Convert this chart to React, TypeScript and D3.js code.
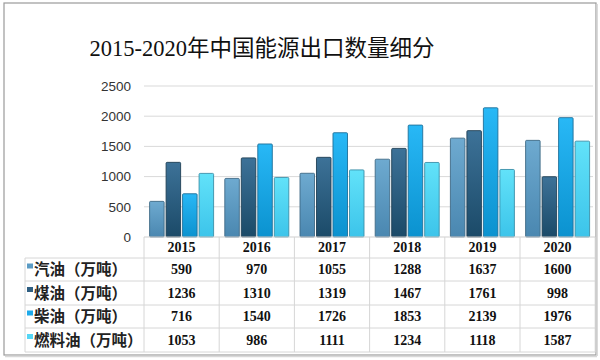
import React from "react";
import * as d3 from "d3";

const years = ["2015", "2016", "2017", "2018", "2019", "2020"];
const seriesNames = ["汽油（万吨）", "煤油（万吨）", "柴油（万吨）", "燃料油（万吨）"];
const gasoline = [590, 970, 1055, 1288, 1637, 1600];
const kerosene = [1236, 1310, 1319, 1467, 1761, 998];
const diesel = [716, 1540, 1726, 1853, 2139, 1976];
const fuelOil = [1053, 986, 1111, 1234, 1118, 1587];
const yTicks = [0, 500, 1000, 1500, 2000, 2500];
const title = "2015-2020年中国能源出口数量细分";

const seriesValues = [gasoline, kerosene, diesel, fuelOil];
const gradients = [
  ["#6eaad0", "#4a87b0"],
  ["#3d7298", "#1b4a68"],
  ["#28b8f6", "#0b92cf"],
  ["#62e2f9", "#3cc4ea"],
];
const strokes = ["#3f6a86", "#1f3f55", "#1f6f98", "#3a8fa8"];
const markerColors = ["#5b9bc4", "#2f5f82", "#1eaaea", "#55d6f5"];

export default function App() {
  const W = 600, H = 360;
  const left = 144, right = 595.2;
  const y0 = 237, yTop = 86;
  const x = d3.scaleBand<string>().domain(years).range([left, right]).paddingInner(0).paddingOuter(0);
  const y = d3.scaleLinear().domain([0, 2500]).range([y0, yTop]);
  const inner = d3.scaleBand<number>().domain([0, 1, 2, 3]).range([5.6, x.bandwidth() - 5.6]).paddingInner(0.12);
  const rowLines = [258, 281, 305, 328, 352];
  const serifNum = "'Liberation Serif', 'Times New Roman', serif";
  const cjk = "'Noto Sans CJK SC', sans-serif";

  return (
    <svg width={W} height={H} style={{ position: "absolute", left: 0, top: 0, background: "#fff" }}>
      <defs>
        {gradients.map((g, i) => (
          <linearGradient key={i} id={`g${i}`} x1="0" y1="0" x2="0" y2="1">
            <stop offset="0%" stopColor={g[0]} />
            <stop offset="100%" stopColor={g[1]} />
          </linearGradient>
        ))}
      </defs>
      <rect x={0} y={0} width={W} height={H} fill="#fff" />
      <rect x={4} y={3} width={592} height={352} fill="#fff" stroke="#9a9a9a" strokeWidth={1.2} />
      <line x1={5} y1={356.5} x2={597} y2={356.5} stroke="#d8d8d8" strokeWidth={1.5} />
      <line x1={597.2} y1={4} x2={597.2} y2={356} stroke="#d8d8d8" strokeWidth={1.5} />

      <text x={262} y={56} textAnchor="middle" fontSize={22.5} fill="#111" fontFamily={`'Liberation Serif', 'Noto Sans CJK SC', serif`}>
        {title}
      </text>

      {yTicks.map((t) => (
        <g key={t}>
          {t > 0 && <line x1={left} x2={593} y1={y(t)} y2={y(t)} stroke="#d9d9d9" strokeWidth={1} />}
          <text x={131} y={y(t)} dy="0.35em" textAnchor="end" fontSize={13.5} fill="#333" fontFamily="'Liberation Sans', Arial, sans-serif">
            {t}
          </text>
        </g>
      ))}

      {years.map((yr, i) =>
        seriesValues.map((vals, s) => (
          <rect
            key={`${yr}-${s}`}
            x={(x(yr) as number) + (inner(s) as number)}
            y={y(vals[i])}
            width={inner.bandwidth()}
            height={y0 - y(vals[i])}
            fill={`url(#g${s})`}
            stroke={strokes[s]}
            strokeWidth={0.9}
            rx={1}
          />
        ))
      )}

      <line x1={left} x2={right} y1={y0} y2={y0} stroke="#cfcfcf" />
      {rowLines.map((ry) => (
        <line key={ry} x1={25} x2={right} y1={ry} y2={ry} stroke="#d6d6d6" />
      ))}
      <line x1={25} x2={25} y1={258} y2={352} stroke="#d6d6d6" />
      {years.map((yr) => (
        <line key={yr} x1={x(yr) as number} x2={x(yr) as number} y1={y0} y2={352} stroke="#d6d6d6" />
      ))}
      <line x1={right} x2={right} y1={y0} y2={352} stroke="#d6d6d6" />

      {years.map((yr) => (
        <text key={yr} x={(x(yr) as number) + x.bandwidth() / 2} y={247.5} dy="0.35em" textAnchor="middle" fontSize={14} fontWeight="bold" fill="#111" fontFamily={serifNum}>
          {yr}
        </text>
      ))}

      {seriesNames.map((name, s) => {
        const cy = (rowLines[s] + rowLines[s + 1]) / 2;
        return (
          <g key={name}>
            <rect x={27} y={cy - 6} width={6} height={5} fill={markerColors[s]} />
            <text x={34} y={cy} dy="0.36em" fontSize={15.5} fontWeight="bold" fill="#222" fontFamily={cjk}>
              {name}
            </text>
            {years.map((yr, i) => (
              <text key={yr} x={(x(yr) as number) + x.bandwidth() / 2} y={cy} dy="0.35em" textAnchor="middle" fontSize={14} fontWeight="bold" fill="#111" fontFamily={serifNum}>
                {seriesValues[s][i]}
              </text>
            ))}
          </g>
        );
      })}
    </svg>
  );
}
